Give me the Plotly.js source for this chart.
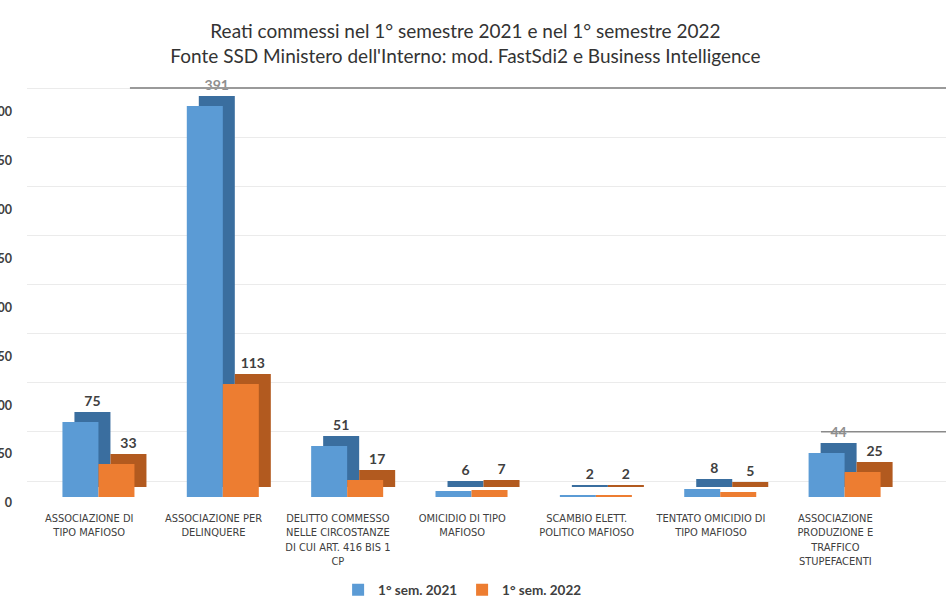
<!DOCTYPE html>
<html><head><meta charset="utf-8">
<script src="https://cdn.plot.ly/plotly-3.0.1.min.js"></script>
<style>html,body{margin:0;padding:0;background:#fff}#chart{width:946px;height:606px}</style>
</head><body><div id="chart"></div>
<script>
const categories = [
  "ASSOCIAZIONE DI<br>TIPO MAFIOSO",
  "ASSOCIAZIONE PER<br>DELINQUERE",
  "DELITTO COMMESSO<br>NELLE CIRCOSTANZE<br>DI CUI ART. 416 BIS 1<br>CP",
  "OMICIDIO DI TIPO<br>MAFIOSO",
  "SCAMBIO ELETT.<br>POLITICO MAFIOSO",
  "TENTATO OMICIDIO DI<br>TIPO MAFIOSO",
  "ASSOCIAZIONE<br>PRODUZIONE E<br>TRAFFICO<br>STUPEFACENTI"
];
const sem2021 = [75, 391, 51, 6, 2, 8, 44];
const sem2022 = [33, 113, 17, 7, 2, 5, 25];
const seriesNames = ["1° sem. 2021", "1° sem. 2022"];
const yTicks = [0, 50, 100, 150, 200, 250, 300, 350, 400];

const idx = categories.map((c, i) => i);
const PX = 1 / 124.33;          // category units per pixel
const W = 36 * PX;              // bar front width
const blueOff = -0.215;
const orangeOff = blueOff + W;
const DX = 12 * PX;             // 3D depth (horizontal)
const DY = 10;                  // 3D depth (vertical, in value units)

const blue = "#5b9bd5", blueDark = "#3a6e9f";
const orange = "#ed7d31", orangeDark = "#b25a1f";
const labelFont = "Lato, 'Open Sans', sans-serif";
const narrow = "'Liberation Sans Narrow', 'DejaVu Sans Condensed', 'Roboto', sans-serif";
const txtCol = "#404040";

function labelColors(vals) { return vals.map(v => (v === 391 || v === 44) ? "#8f8f8f" : txtCol); }

const traces = [
  { type: "bar", x: idx, y: sem2021, base: DY, offset: blueOff + DX, width: W,
    marker: { color: blueDark }, showlegend: false, hoverinfo: "skip",
    text: sem2021.map(String), textposition: "outside", cliponaxis: false,
    textfont: { family: labelFont, size: 14, weight: "bold", color: labelColors(sem2021) } },
  { type: "bar", x: idx, y: sem2022, base: DY, offset: orangeOff + DX, width: W,
    marker: { color: orangeDark }, showlegend: false, hoverinfo: "skip",
    text: sem2022.map(String), textposition: "outside", cliponaxis: false,
    textfont: { family: labelFont, size: 14, weight: "bold", color: labelColors(sem2022) } },
  { type: "bar", x: idx, y: sem2021, offset: blueOff, width: W, name: seriesNames[0],
    marker: { color: blue } },
  { type: "bar", x: idx, y: sem2022, offset: orangeOff, width: W, name: seriesNames[1],
    marker: { color: orange } }
];
traces.forEach(t => { t.yaxis = "y2"; });
// empty helper so the tick-label axis is attached to the subplot (draws nothing)
traces.push({ type: "scatter", mode: "markers", x: [], y: [], yaxis: "y", showlegend: false, hoverinfo: "skip" });

const layout = {
  width: 946, height: 606,
  paper_bgcolor: "#fff", plot_bgcolor: "rgba(0,0,0,0)",
  margin: { l: 27, r: 0, t: 80, b: 96 },
  barmode: "overlay",
  title: {
    text: "Reati commessi nel 1° semestre 2021 e nel 1° semestre 2022<br>Fonte SSD Ministero dell'Interno: mod. FastSdi2 e Business Intelligence",
    font: { family: labelFont, size: 19, color: "#333" },
    x: 0.492, xref: "container", xanchor: "center",
    y: 1 - 38 / 606, yref: "container", yanchor: "top"
  },
  xaxis: {
    type: "linear", range: [-0.5, 6.89], tickvals: idx, ticktext: categories,
    showgrid: false, zeroline: false, showline: false, ticks: "",
    tickfont: { family: narrow, size: 11, color: txtCol }, ticklabelstandoff: 0
  },
  yaxis: { type: "linear", range: [-7.16, 432.7], tickmode: "array", tickvals: yTicks,
    showgrid: false, zeroline: false, showline: false, ticks: "", showticklabels: true,
    ticklabeloverflow: "allow", ticklabelstandoff: 14, automargin: false,
    tickfont: { family: labelFont, size: 12.5, weight: "bold", color: txtCol } },
  yaxis2: { type: "linear", overlaying: "y", range: [-13, 417], showgrid: false, zeroline: false,
    showticklabels: false, showline: false, ticks: "" },
  yaxis3: { type: "linear", overlaying: "y", range: [-29.52, 408.14], tickmode: "array", tickvals: yTicks,
    showgrid: true, gridcolor: "#ebebeb", gridwidth: 1, zeroline: false, showticklabels: false, showline: false },
  shapes: [
    { type: "line", xref: "paper", yref: "y3", x0: 0.112, x1: 1, y0: 400, y1: 400, line: { color: "#9a9a9a", width: 2 } },
    { type: "line", xref: "paper", yref: "y3", x0: 0.864, x1: 1, y0: 50, y1: 50, line: { color: "#8a8a8a", width: 1.5 } }
  ],
  legend: {
    orientation: "h", x: 0.474, xanchor: "center", y: -0.186, yanchor: "middle",
    font: { family: labelFont, size: 13.5, weight: "bold", color: txtCol },
    itemwidth: 30
  },
  showlegend: true
};

Plotly.newPlot("chart", traces, layout, { displayModeBar: false, staticPlot: true });
</script>
</body></html>
